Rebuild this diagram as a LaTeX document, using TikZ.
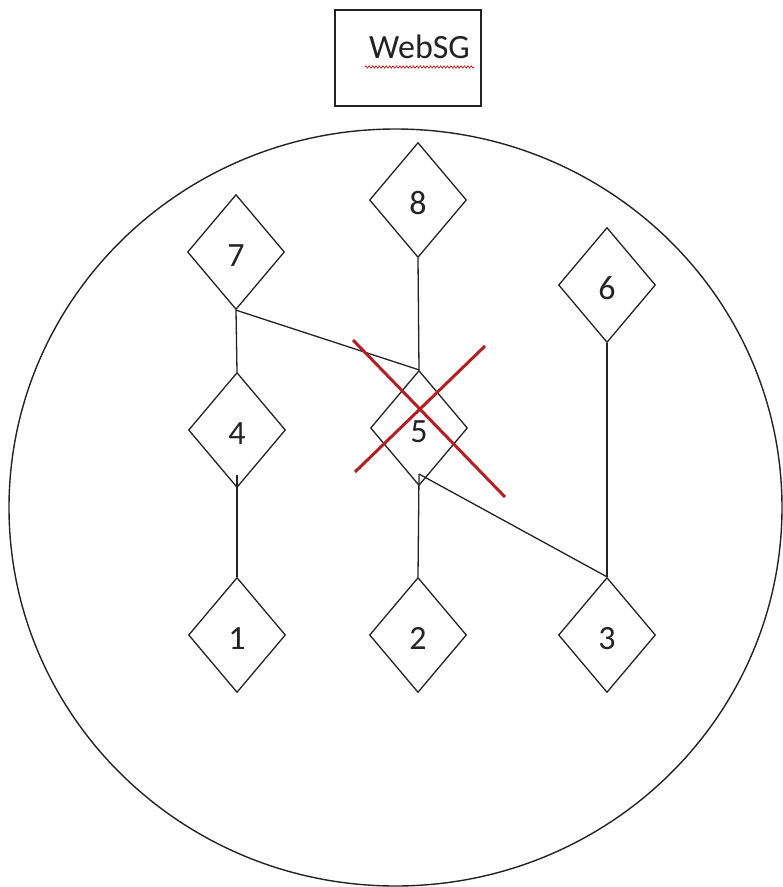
\documentclass[tikz,border=0pt]{standalone}
\usepackage{fontspec}
\setmainfont{Carlito}
\usetikzlibrary{shapes.geometric,decorations.pathmorphing}
\definecolor{xred}{RGB}{178,32,38}
\definecolor{ink}{RGB}{35,35,35}
\tikzset{
  dia/.style={draw=ink, line width=1.3pt, shape=diamond, minimum width=97pt, minimum height=115pt, inner sep=0pt, font=\fontsize{34}{40}\selectfont, text=ink, text height=29pt, text depth=0pt},
  conn/.style={draw=ink, line width=1.3pt},
  cross/.style={draw=xred, line width=3pt},
}
\begin{document}
\begin{tikzpicture}[x=1pt,y=-1pt]
\useasboundingbox (0,0) rectangle (783,887);
% title
\node[draw=ink, line width=1.3pt, minimum width=146pt, minimum height=96pt, inner sep=0pt] (titlebox) at (408,58) {};
\node[anchor=base, inner sep=0pt, font=\fontsize{34}{40}\selectfont, text=ink] (title) at (419.5,58) {WebSG};
\coordinate (sqa) at (365,67);
\coordinate (sqb) at (474,67);
\draw[red!75!black, line width=0.6pt, decorate, decoration={zigzag, amplitude=1.2pt, segment length=3.4pt}] (sqa) -- (sqb);
% ellipse
\draw[ink, line width=1.4pt] (395.5,507.5) ellipse [x radius=386.5, y radius=378.5];
% diamonds
\node[dia] (n1) at (237,635) {1};
\node[dia] (n2) at (418,635) {2};
\node[dia] (n3) at (607,635) {3};
\node[dia] (n4) at (237,430) {4};
\node[dia] (n5) at (419,428) {5};
\node[dia] (n6) at (607,285) {6};
\node[dia] (n7) at (236,252) {7};
\node[dia] (n8) at (418,200) {8};
\coordinate (c4) at (237,475);
\coordinate (c5) at (419,474);
% connectors
\draw[conn] (n7.south) -- (n4.north);
\draw[conn] (n7.south) -- (n5.north);
\draw[conn] (n8.south) -- (n5.north);
\draw[conn] (n1.north) -- (c4);
\draw[conn] (n2.north) -- (c5);
\draw[conn] (n3.north) -- (c5);
\draw[conn] (n6.south) -- (n3.north);
% red cross
\coordinate (xa) at (353,340);
\coordinate (xb) at (505,497);
\coordinate (xc) at (485,346);
\coordinate (xd) at (355,472);
\draw[cross] (xa) -- (xb);
\draw[cross] (xc) -- (xd);
\end{tikzpicture}
\end{document}
